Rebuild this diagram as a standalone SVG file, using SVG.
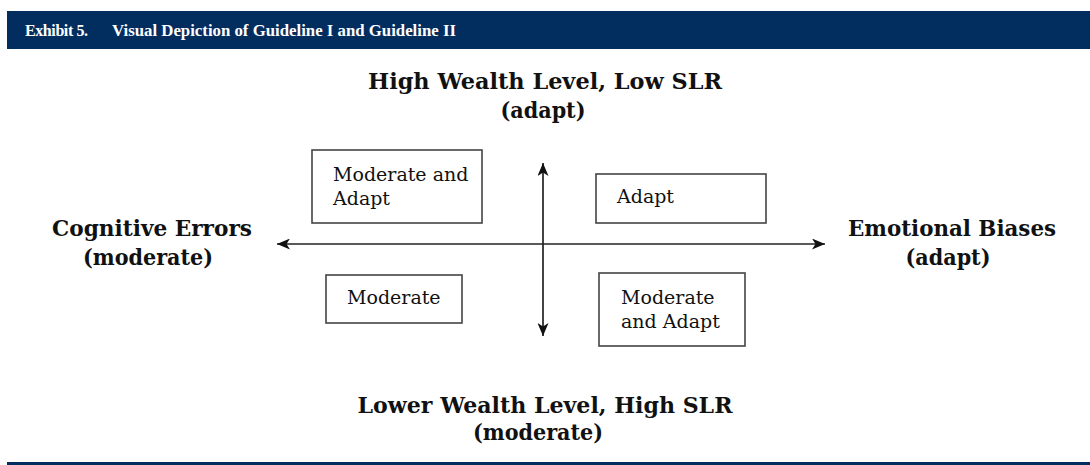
<svg xmlns="http://www.w3.org/2000/svg" width="1090" height="465" viewBox="0 0 1090 465">
  <style>
    .hdr { font-family: "Liberation Serif", serif; font-weight: bold; font-size: 16px; fill: #ffffff; }
    .axis { font-family: "DejaVu Serif", "Liberation Serif", serif; font-weight: bold; font-size: 22px; fill: #111111; }
    .box { fill: #ffffff; stroke: #444444; stroke-width: 1.6; }
    .btxt { font-family: "DejaVu Serif", "Liberation Serif", serif; font-size: 19px; fill: #111111; }
    .ax { stroke: #222222; stroke-width: 1.7; fill: none; }
  </style>
  <defs>
    <marker id="ah" viewBox="0 0 13 11" refX="13" refY="5.5" markerWidth="13" markerHeight="11" markerUnits="userSpaceOnUse" orient="auto-start-reverse">
      <path d="M0,0 L13,5.5 L0,11 L3.5,5.5 Z" fill="#111111"/>
    </marker>
  </defs>
  <rect x="0" y="0" width="1090" height="465" fill="#ffffff"/>
  <g id="header">
    <rect x="7" y="11" width="1083" height="38" fill="#022d5f"/>
    <text class="hdr" x="25" y="36" textLength="63">Exhibit 5.</text>
    <text class="hdr" x="112" y="36" textLength="344" lengthAdjust="spacingAndGlyphs">Visual Depiction of Guideline I and Guideline II</text>
  </g>
  <g id="label-top">
    <text class="axis" x="545" y="89" text-anchor="middle" textLength="354" lengthAdjust="spacingAndGlyphs">High Wealth Level, Low SLR</text>
    <text class="axis" x="543" y="118" text-anchor="middle" textLength="85" lengthAdjust="spacingAndGlyphs">(adapt)</text>
  </g>
  <g id="label-left">
    <text class="axis" x="152" y="236" text-anchor="middle" textLength="200" lengthAdjust="spacingAndGlyphs">Cognitive Errors</text>
    <text class="axis" x="148" y="265" text-anchor="middle" textLength="130" lengthAdjust="spacingAndGlyphs">(moderate)</text>
  </g>
  <g id="label-right">
    <text class="axis" x="952" y="236" text-anchor="middle" textLength="208" lengthAdjust="spacingAndGlyphs">Emotional Biases</text>
    <text class="axis" x="948" y="265" text-anchor="middle" textLength="85" lengthAdjust="spacingAndGlyphs">(adapt)</text>
  </g>
  <g id="label-bottom">
    <text class="axis" x="545" y="413" text-anchor="middle" textLength="375" lengthAdjust="spacingAndGlyphs">Lower Wealth Level, High SLR</text>
    <text class="axis" x="538" y="440" text-anchor="middle" textLength="130" lengthAdjust="spacingAndGlyphs">(moderate)</text>
  </g>
  <g id="connectors">
    <line class="ax" x1="277" y1="244" x2="825" y2="244" marker-start="url(#ah)" marker-end="url(#ah)"/>
    <line class="ax" x1="543" y1="163" x2="543" y2="336" marker-start="url(#ah)" marker-end="url(#ah)"/>
  </g>
  <g id="box-moderate-adapt-tl">
    <rect class="box" x="312" y="150" width="170" height="73"/>
    <text class="btxt" x="333" y="181">Moderate and</text>
    <text class="btxt" x="333" y="205">Adapt</text>
  </g>
  <g id="box-adapt">
    <rect class="box" x="596" y="174" width="170" height="49"/>
    <text class="btxt" x="617" y="203">Adapt</text>
  </g>
  <g id="box-moderate">
    <rect class="box" x="326" y="275" width="136" height="48"/>
    <text class="btxt" x="347" y="304">Moderate</text>
  </g>
  <g id="box-moderate-adapt-br">
    <rect class="box" x="599" y="273" width="146" height="73"/>
    <text class="btxt" x="621" y="304">Moderate</text>
    <text class="btxt" x="621" y="328">and Adapt</text>
  </g>
  <g id="footer">
    <rect x="7" y="462" width="1083" height="3" fill="#022d5f"/>
  </g>
</svg>
